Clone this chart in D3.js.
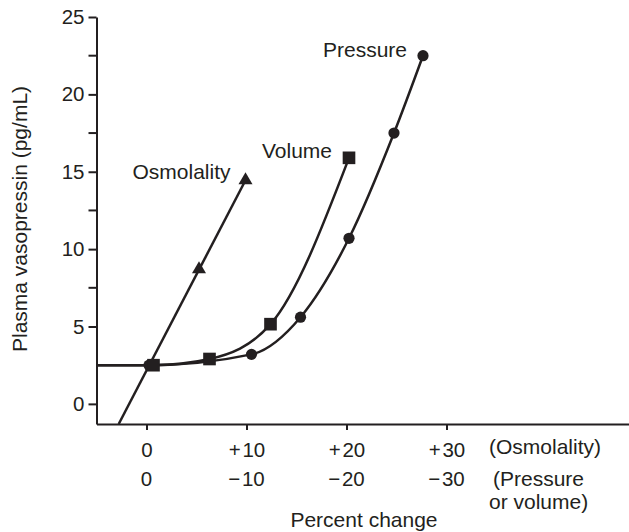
<!DOCTYPE html>
<html>
<head>
<meta charset="utf-8">
<script src="https://cdn.jsdelivr.net/npm/d3@7/dist/d3.min.js"></script>
<style>
  html, body { margin: 0; padding: 0; background: #fff; }
  svg { display: block; }
  text { font-family: "Liberation Sans", Arial, Helvetica, sans-serif; fill: #231f20; }
</style>
</head>
<body>
<svg id="chart" width="629" height="532"></svg>
<script>
// Plasma vasopressin response to rising osmolality and to falling pressure or volume
const basalAvp = 2.5;                       // pg/mL at no change

const osmolalityPct = [0.28, 5.25, 9.9];    // % increase in osmolality
const osmolalityAvp = [2.5, 8.7, 14.45];
const osmolalityMarked = [false, true, true];

const volumePct = [0.7, 6.3, 12.4, 20.25];  // % decrease in blood volume
const volumeAvp = [2.5, 2.9, 5.15, 15.9];

const pressurePct = [0.25, 10.5, 15.4, 20.25, 24.75, 27.65]; // % decrease in pressure
const pressureAvp = [2.5, 3.2, 5.6, 10.7, 17.5, 22.5];

const xTickValues = [0, 10, 20, 30];
const xTickOsmolality = ["0", "+\u200A10", "+\u200A20", "+\u200A30"];
const xTickPressure = ["0", "\u2212\u200A10", "\u2212\u200A20", "\u2212\u200A30"];
const yMajorTicks = [0, 5, 10, 15, 20, 25];
const yMinorTicks = [7.5, 12.5, 17.5, 22.5];

const ink = "#231f20";
const fontSize = 20.5;
const titleSize = 21;

const svg = d3.select("#chart");
const x = d3.scaleLinear().domain([-5, 48.2]).range([96.5, 628.5]);
const y = d3.scaleLinear().domain([-1.3, 25]).range([424, 17]);

// Axes
const xAxis = svg.append("g")
  .attr("transform", `translate(0,${y.range()[0]})`)
  .call(d3.axisBottom(x).tickValues(xTickValues).tickSizeInner(6).tickSizeOuter(0)
        .tickFormat((d, i) => xTickOsmolality[i]).tickPadding(12));
xAxis.select(".domain").attr("stroke", ink).attr("stroke-width", 2);
xAxis.selectAll(".tick line").attr("stroke", ink).attr("stroke-width", 2);
xAxis.selectAll(".tick text").attr("font-size", fontSize).attr("fill", ink)
  .attr("font-family", "Liberation Sans, Arial, sans-serif");

// Second row of x tick labels (pressure / volume decrease)
svg.append("g").selectAll("text")
  .data(xTickValues)
  .join("text")
  .attr("x", d => x(d))
  .attr("y", y.range()[0] + 62)
  .attr("text-anchor", "middle")
  .attr("font-size", fontSize)
  .text((d, i) => xTickPressure[i]);

// Row captions
svg.append("text").attr("x", 489).attr("y", y.range()[0] + 30)
  .attr("font-size", titleSize).text("(Osmolality)");
svg.append("text").attr("x", 493).attr("y", y.range()[0] + 62)
  .attr("font-size", titleSize).text("(Pressure");
svg.append("text").attr("x", 489).attr("y", y.range()[0] + 85)
  .attr("font-size", titleSize).text("or volume)");

svg.append("text").attr("x", 364).attr("y", 527)
  .attr("text-anchor", "middle").attr("font-size", titleSize).text("Percent change");

const yAxis = svg.append("g")
  .attr("transform", `translate(${x.range()[0]},0)`)
  .call(d3.axisLeft(y).tickValues(yMajorTicks).tickSizeInner(8).tickSizeOuter(0).tickPadding(4));
yAxis.select(".domain").attr("stroke", ink).attr("stroke-width", 2);
yAxis.selectAll(".tick line").attr("stroke", ink).attr("stroke-width", 2);
yAxis.selectAll(".tick text").attr("font-size", fontSize).attr("fill", ink)
  .attr("font-family", "Liberation Sans, Arial, sans-serif");

svg.append("g").selectAll("line")
  .data(yMinorTicks)
  .join("line")
  .attr("x1", x.range()[0] - 8).attr("x2", x.range()[0])
  .attr("y1", d => y(d)).attr("y2", d => y(d))
  .attr("stroke", ink).attr("stroke-width", 2);

svg.append("text")
  .attr("transform", `translate(27,219) rotate(-90)`)
  .attr("text-anchor", "middle").attr("font-size", titleSize)
  .text("Plasma vasopressin (pg/mL)");

// Curves
const line = d3.line().x(d => x(d[0])).y(d => y(d[1])).curve(d3.curveMonotoneX);
const withBaseline = (pct, avp) =>
  [[x.domain()[0], basalAvp]].concat(pct.map((p, i) => [p, avp[i]]));

const plot = svg.append("g");

plot.append("path")
  .attr("d", line(withBaseline(pressurePct, pressureAvp)))
  .attr("fill", "none").attr("stroke", ink).attr("stroke-width", 2.5);
plot.append("path")
  .attr("d", line(withBaseline(volumePct, volumeAvp)))
  .attr("fill", "none").attr("stroke", ink).attr("stroke-width", 2.5);

// Osmolality: straight line through its points, extended to the bottom of the axis
const o0 = [osmolalityPct[0], osmolalityAvp[0]];
const o1 = [osmolalityPct[osmolalityPct.length - 1], osmolalityAvp[osmolalityAvp.length - 1]];
const slope = (o1[1] - o0[1]) / (o1[0] - o0[0]);
const yMin = y.domain()[0];
const oStart = [o0[0] + (yMin - o0[1]) / slope, yMin];
plot.append("path")
  .attr("d", d3.line().x(d => x(d[0])).y(d => y(d[1]))([oStart, o1]))
  .attr("fill", "none").attr("stroke", ink).attr("stroke-width", 2.5);

// Markers
plot.append("g").selectAll("path")
  .data(osmolalityPct.map((p, i) => [p, osmolalityAvp[i], osmolalityMarked[i]]).filter(d => d[2]))
  .join("path")
  .attr("transform", d => `translate(${x(d[0])},${y(d[1])})`)
  .attr("d", d3.symbol(d3.symbolTriangle, 85))
  .attr("fill", ink);

plot.append("g").selectAll("circle")
  .data(pressurePct.map((p, i) => [p, pressureAvp[i]]))
  .join("circle")
  .attr("cx", d => x(d[0])).attr("cy", d => y(d[1])).attr("r", 5.6)
  .attr("fill", ink);

plot.append("g").selectAll("path")
  .data(volumePct.map((p, i) => [p, volumeAvp[i]]))
  .join("path")
  .attr("transform", d => `translate(${x(d[0])},${y(d[1])})`)
  .attr("d", d3.symbol(d3.symbolSquare, 160))
  .attr("fill", ink);

// Series labels beside the last point of each series
const last = (pct, avp) => [x(pct[pct.length - 1]), y(avp[avp.length - 1])];
const [px, py] = last(pressurePct, pressureAvp);
svg.append("text").attr("x", px - 16).attr("y", py + 1)
  .attr("text-anchor", "end").attr("font-size", titleSize).text("Pressure");
const [vx, vy] = last(volumePct, volumeAvp);
svg.append("text").attr("x", vx - 17).attr("y", vy)
  .attr("text-anchor", "end").attr("font-size", titleSize).text("Volume");
const [ox, oy] = last(osmolalityPct, osmolalityAvp);
svg.append("text").attr("x", ox - 15).attr("y", oy - 1)
  .attr("text-anchor", "end").attr("font-size", titleSize).text("Osmolality");
</script>
</body>
</html>
